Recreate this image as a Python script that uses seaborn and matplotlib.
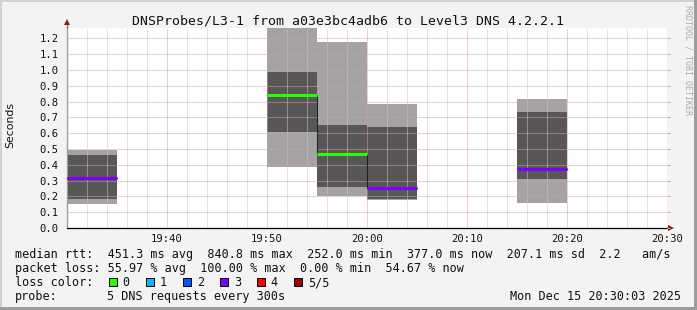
import datetime as dt
import matplotlib
matplotlib.use("Agg")
import matplotlib.pyplot as plt
import matplotlib.dates as mdates
from matplotlib.patches import Rectangle
import seaborn as sns

# ---------------- data ----------------
day = dt.datetime(2025, 12, 15)
interval_start = ["19:30", "19:50", "19:55", "20:00", "20:15"]
step_minutes = 5
smoke_min = [0.154, 0.388, 0.200, 0.177, 0.160]
smoke_max = [0.493, 1.300, 1.176, 0.784, 0.816]
inner_low = [0.183, 0.607, 0.259, 0.183, 0.308]
inner_high = [0.462, 0.989, 0.651, 0.639, 0.734]
median_rtt = [0.316, 0.841, 0.466, 0.251, 0.373]
lost_pings = [3, 0, 0, 3, 3]

loss_labels = ["0", "1", "2", "3", "4", "5/5"]
loss_colors = ["#26ff00", "#00b8ff", "#0059ff", "#7e00ff", "#ff0000", "#a00000"]

y_ticks = [0.0, 0.1, 0.2, 0.3, 0.4, 0.5, 0.6, 0.7, 0.8, 0.9, 1.0, 1.1, 1.2]
x_tick_labels = ["19:40", "19:50", "20:00", "20:10", "20:20", "20:30"]
x_range = ["19:30", "20:30"]

title = "DNSProbes/L3-1 from a03e3bc4adb6 to Level3 DNS 4.2.2.1"
rtt_line = "median rtt:  451.3 ms avg  840.8 ms max  252.0 ms min  377.0 ms now  207.1 ms sd  2.2   am/s"
loss_line = "packet loss: 55.97 % avg  100.00 % max  0.00 % min  54.67 % now"
probe_text = ["probe:", "5 DNS requests every 300s"]
stamp = "Mon Dec 15 20:30:03 2025"

# ---------------- style ----------------
sns.set_theme(style="white")
MONO = ["DejaVu Sans Mono"]
plt.rcParams["font.family"] = MONO

W, H = 697, 310
BG = "#f3f3f3"
fig = plt.figure(figsize=(W / 100, H / 100), dpi=100, facecolor=BG)


def fx(x):
    return x / W


def fy(y):
    return 1 - y / H


L, T, R, B = 67, 28, 667, 228
ax = fig.add_axes([fx(L), fy(B), (R - L) / W, (B - T) / H])
ax.set_facecolor("white")


def tm(s):
    h, m = map(int, s.split(":"))
    return day.replace(hour=h, minute=m)


starts = [tm(s) for s in interval_start]
width = dt.timedelta(minutes=step_minutes)
wdays = step_minutes / 1440.0

LIGHT = "#a3a3a3"
DARK = "#575757"
ax.bar(starts, [a - b for a, b in zip(smoke_max, smoke_min)], bottom=smoke_min,
       width=wdays, align="edge", color=LIGHT, linewidth=0, zorder=1)
ax.bar(starts, [a - b for a, b in zip(inner_high, inner_low)], bottom=inner_low,
       width=wdays, align="edge", color=DARK, linewidth=0, zorder=1.1)

# black step line connecting medians of contiguous intervals
groups = []
for i, s in enumerate(starts):
    if groups and starts[groups[-1][-1]] + width == s:
        groups[-1].append(i)
    else:
        groups.append([i])
for g in groups:
    xs = [starts[i] for i in g] + [starts[g[-1]] + width]
    ys = [median_rtt[i] for i in g] + [median_rtt[g[-1]]]
    ax.plot(xs, ys, drawstyle="steps-post", color="#202020", lw=0.75, zorder=2.8)

for s, m, n in zip(starts, median_rtt, lost_pings):
    ax.hlines(m, s, s + width, color=loss_colors[n], lw=2.2, zorder=3)

ax.set_xlim(tm(x_range[0]), tm(x_range[1]))
ax.set_ylim(0, (B - T) / 158.1)

ax.set_xticks([tm(s) for s in x_tick_labels])
ax.set_xticklabels(x_tick_labels)
ax.xaxis.set_minor_locator(mdates.MinuteLocator(byminute=range(0, 60, 2)))
ax.set_yticks(y_ticks)
ax.set_yticklabels([f"{v:.1f}" for v in y_ticks])

ax.set_axisbelow(False)
dot = (0, (1.0, 1.0))
ax.grid(True, which="minor", axis="x", color="#c6c6c6", lw=0.72, linestyle=dot)
ax.grid(True, which="major", axis="both", color="#e09c9c", lw=0.72, linestyle=dot)

ax.tick_params(axis="x", which="major", length=2, width=0.72, color="#e09c9c",
               direction="out", pad=2.6, labelsize=7.6, labelcolor="#111111")
ax.tick_params(axis="x", which="minor", length=0)
ax.tick_params(axis="y", which="major", left=False, right=True, length=2, width=0.72,
               color="#e09c9c", direction="out", pad=4.0, labelsize=7.6,
               labelcolor="#111111", labelleft=True)

for sp in ["top", "right"]:
    ax.spines[sp].set_visible(False)
ax.spines["left"].set_color("#777777")
ax.spines["left"].set_linewidth(0.9)
ax.spines["bottom"].set_color("#000000")
ax.spines["bottom"].set_linewidth(0.9)

# axis arrows
ax.plot([0, 0], [1, 1.03], transform=ax.transAxes, color="#777777", lw=0.9, clip_on=False)
ax.plot([1, 1.006], [0, 0], transform=ax.transAxes, color="#000000", lw=0.9, clip_on=False)
ax.plot([0], [1.03], marker="^", markersize=5, color="#8b1a1a", transform=ax.transAxes,
        clip_on=False, markeredgewidth=0)
ax.plot([1.007], [0], marker=">", markersize=5, color="#8b1a1a", transform=ax.transAxes,
        clip_on=False, markeredgewidth=0)

# ---------------- texts ----------------
fig.text(fx(348), fy(24), title, ha="center", va="baseline", fontsize=9.5, color="#111111")
fig.text(fx(10.5), fy(125), "Seconds", rotation=90, ha="center", va="center",
         fontsize=7.8, family=["DejaVu Sans"], color="#111111")
fig.text(fx(688), fy(60), "RRDTOOL / TOBI OETIKER", rotation=270, ha="center",
         va="center", fontsize=6, color="#ababab")

LS = 8.5
fig.text(fx(15.3), fy(258), rtt_line, ha="left", va="baseline", fontsize=LS, color="#111111")
fig.text(fx(15.3), fy(272), loss_line, ha="left", va="baseline", fontsize=LS, color="#111111")

fig.text(fx(15.3), fy(286), "loss color:", ha="left", va="baseline", fontsize=LS, color="#111111")
for i, (lab, c) in enumerate(zip(loss_labels, loss_colors)):
    sx = 108.5 + 37 * i
    fig.add_artist(Rectangle((fx(sx), fy(286.3)), 8 / W, 8 / H, transform=fig.transFigure,
                             facecolor=c, edgecolor="#000000", lw=0.7))
    fig.text(fx(sx + 14.2), fy(286), lab, ha="left", va="baseline", fontsize=LS, color="#111111")

fig.text(fx(15.3), fy(300), probe_text[0], ha="left", va="baseline", fontsize=LS, color="#111111")
fig.text(fx(106.6), fy(300), probe_text[1], ha="left", va="baseline", fontsize=LS, color="#111111")
fig.text(fx(680.5), fy(300), stamp, ha="right", va="baseline", fontsize=LS, color="#111111")

# frame
fig.add_artist(Rectangle((0, fy(2)), 1, 2 / H, transform=fig.transFigure,
                         facecolor="#d2d2d2", lw=0))
fig.add_artist(Rectangle((0, 0), 2 / W, 1, transform=fig.transFigure,
                         facecolor="#d2d2d2", lw=0))
fig.add_artist(Rectangle((0, 0), 1, 3 / H, transform=fig.transFigure,
                         facecolor="#9c9c9c", lw=0))
fig.add_artist(Rectangle((fx(W - 3), 0), 3 / W, 1, transform=fig.transFigure,
                         facecolor="#9c9c9c", lw=0))

fig.savefig("out.png", dpi=100, facecolor=BG)
